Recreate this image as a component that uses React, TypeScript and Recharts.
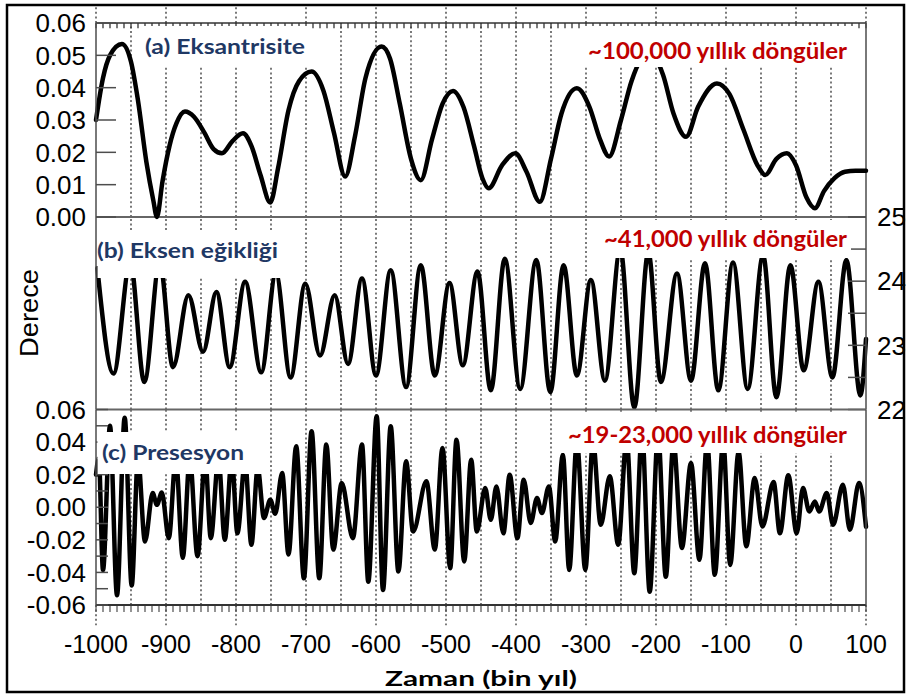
import React from 'react';
import { LineChart, Line, XAxis, YAxis, ReferenceLine } from 'recharts';

// ---------- data (time in thousand years, value) ----------
const eccentricity: [number, number][] = [
  [-1000, 0.030], [-990, 0.043], [-980, 0.050], [-963, 0.0535], [-950, 0.048], [-940, 0.036],
  [-928, 0.017], [-918, 0.005], [-913, 0.0], [-905, 0.011], [-895, 0.022], [-885, 0.029],
  [-873, 0.0326], [-860, 0.031], [-845, 0.026], [-832, 0.021], [-820, 0.0197], [-805, 0.0235],
  [-790, 0.0259], [-778, 0.022], [-765, 0.013], [-751, 0.0045], [-740, 0.015], [-725, 0.033],
  [-710, 0.042], [-692, 0.045], [-675, 0.039], [-660, 0.026], [-644, 0.0125], [-630, 0.025],
  [-615, 0.043], [-592, 0.0527], [-580, 0.049], [-566, 0.035], [-550, 0.018], [-536, 0.0114],
  [-520, 0.024], [-505, 0.035], [-490, 0.039], [-475, 0.034], [-460, 0.022], [-448, 0.012],
  [-439, 0.0089], [-420, 0.016], [-401, 0.0197], [-385, 0.014], [-366, 0.0047], [-350, 0.018],
  [-335, 0.032], [-313, 0.0398], [-295, 0.034], [-280, 0.024], [-267, 0.0187], [-250, 0.030],
  [-235, 0.042], [-210, 0.051], [-190, 0.044], [-175, 0.032], [-157, 0.0248], [-140, 0.034],
  [-113, 0.0413], [-95, 0.038], [-75, 0.027], [-55, 0.016], [-44, 0.013], [-28, 0.018],
  [-13, 0.0197], [0, 0.016], [15, 0.006], [27, 0.0027], [40, 0.008], [55, 0.012],
  [70, 0.014], [85, 0.0143], [100, 0.0143],
];

const obliquity: [number, number][] = [
  [-998, 24.2], [-975, 22.56], [-951, 24.3], [-931, 22.43], [-909, 24.3], [-890, 22.66],
  [-868, 23.78], [-847, 22.9], [-828, 23.83], [-809, 22.66], [-787, 23.99], [-764, 22.58],
  [-743, 24.12], [-722, 22.5], [-701, 23.96], [-680, 22.84], [-659, 23.78], [-640, 22.71],
  [-620, 24.04], [-600, 22.53], [-579, 24.17], [-557, 22.35], [-536, 24.25], [-516, 22.53],
  [-495, 23.97], [-476, 22.69], [-455, 24.15], [-436, 22.3], [-416, 24.35], [-394, 22.32],
  [-371, 24.33], [-351, 22.27], [-332, 24.25], [-313, 22.53], [-293, 24.02], [-273, 22.45],
  [-251, 24.5], [-231, 22.03], [-211, 24.45], [-193, 22.43], [-170, 24.12], [-150, 22.45],
  [-130, 24.28], [-111, 22.3], [-90, 24.29], [-69, 22.32], [-47, 24.4], [-28, 22.19],
  [-8, 24.25], [11, 22.61], [32, 23.99], [52, 22.5], [72, 24.33], [92, 22.22], [100, 23.1],
];

const precession: [number, number][] = [
  [-1000, 0.02], [-996, 0.03], [-990, -0.0385], [-980, 0.05], [-970, -0.054], [-959, 0.055],
  [-949, -0.048], [-940, 0.03], [-930, -0.021], [-919, 0.0087], [-913, 0.0015], [-906, 0.009],
  [-896, -0.019], [-886, 0.03], [-876, -0.031], [-866, 0.03], [-855, -0.03], [-844, 0.03],
  [-836, -0.019], [-825, 0.03], [-816, -0.02], [-806, 0.03], [-798, -0.016], [-787, 0.028],
  [-778, -0.023], [-769, 0.024], [-760, -0.0066], [-751, 0.0046], [-744, -0.004], [-734, 0.021],
  [-725, -0.029], [-714, 0.0374], [-703, -0.0436], [-692, 0.0467], [-681, -0.0436], [-671, 0.0385],
  [-661, -0.026], [-649, 0.0149], [-633, -0.019], [-620, 0.0385], [-611, -0.0457], [-599, 0.0559],
  [-590, -0.0508], [-579, 0.0497], [-568, -0.0395], [-557, 0.0282], [-547, -0.0149], [-528, 0.0159],
  [-516, -0.026], [-505, 0.0364], [-494, -0.0374], [-485, 0.0415], [-474, -0.0333], [-464, 0.0292],
  [-456, -0.0149], [-444, 0.0118], [-436, -0.0077], [-428, 0.0128], [-418, -0.016], [-409, 0.02],
  [-398, -0.019], [-389, 0.0169], [-379, -0.0097], [-370, 0.0057], [-363, -0.0036], [-353, 0.0128],
  [-344, -0.021], [-333, 0.0323], [-324, -0.0385], [-313, 0.04], [-301, -0.0385], [-290, 0.04],
  [-279, -0.0108], [-266, 0.019], [-254, -0.023], [-242, 0.042], [-231, -0.0405], [-220, 0.046],
  [-209, -0.0518], [-197, 0.045], [-186, -0.0426], [-175, 0.04], [-163, -0.025], [-150, 0.0272],
  [-138, -0.0323], [-127, 0.04], [-116, -0.0415], [-104, 0.04], [-94, -0.0354], [-82, 0.034],
  [-71, -0.024], [-59, 0.018], [-48, -0.0118], [-32, 0.0155], [-23, -0.016], [-11, 0.0196],
  [1, -0.016], [10, 0.0118], [19, -0.0026], [27, 0.0036], [33, -0.0026], [44, 0.0087],
  [53, -0.0108], [67, 0.0138], [77, -0.0138], [90, 0.0149], [100, -0.012],
];

// ---------- ticks ----------
const xLabelTicks = [-1000, -900, -800, -700, -600, -500, -400, -300, -200, -100, 0, 100];
const xMinorTicks = Array.from({ length: 111 }, (_, i) => -1000 + i * 10);
const gridTimes = [-950, -900, -850, -800, -750, -700, -650, -600, -550, -500, -450, -400, -350, -300, -250, -200, -150, -100, -50, 0, 50];
const eccTicks = [0, 0.01, 0.02, 0.03, 0.04, 0.05, 0.06];
const oblRightTicks = [22, 22.5, 23, 23.5, 24, 24.5, 25];
const oblLeftTicks = [22.5, 23, 23.5, 24, 24.5];
const precTicks = [-0.06, -0.05, -0.04, -0.03, -0.02, -0.01, 0, 0.01, 0.02, 0.03, 0.04, 0.05, 0.06];

const toRows = (arr: [number, number][]) => arr.map(([t, v]) => ({ t, v }));
const eccData = toRows(eccentricity);
const oblData = toRows(obliquity);
const precData = toRows(precession);

const W = 907;
const H = 695;
const AX = '#4d4d4d';
const FONT = '"Liberation Sans", Arial, sans-serif';
const TITLE_FONT = 'Lato, "Open Sans", sans-serif';
const tickText = { fill: '#000', fontSize: 26, fontFamily: FONT };
const GRID = { stroke: '#333', strokeDasharray: '2 2.6', strokeWidth: 1.3 };
const CURVE = { stroke: '#000', strokeWidth: 4.5, strokeLinejoin: 'round' as const, strokeLinecap: 'round' as const };

const layer: React.CSSProperties = { position: 'absolute', left: 0, top: 0 };

function PanelA() {
  return (
    <div style={layer}>
      <LineChart width={W} height={H} data={eccData} margin={{ top: 23, right: 41, bottom: H - 217, left: 0 }}>
        <XAxis type="number" dataKey="t" domain={[-1000, 100]} hide />
        <YAxis type="number" domain={[0, 0.06]} ticks={eccTicks} interval={0} width={96} tickSize={-20} tickMargin={30}
          tickFormatter={(v: number) => v.toFixed(2)} tick={tickText} axisLine={{ stroke: AX, strokeWidth: 1.5 }} tickLine={{ stroke: AX, strokeWidth: 1.5 }} />
        {gridTimes.map((t) => (
          <ReferenceLine key={'g' + t} x={t} {...GRID} />
        ))}
        {xLabelTicks.map((t) => (
          <ReferenceLine key={'e' + t} ifOverflow="visible" segment={[{ x: t, y: 0.06 }, { x: t, y: 0.0654 }]} {...GRID} />
        ))}
        {xMinorTicks.map((t) => (
          <ReferenceLine key={'m' + t} ifOverflow="visible" segment={[{ x: t, y: 0.06 }, { x: t, y: 0.0584 }]} stroke="#333" strokeWidth={1.3} />
        ))}
        <ReferenceLine y={0.06} stroke="#333" strokeWidth={1.6} />
        <ReferenceLine y={0} stroke="#666" strokeWidth={2} />
        <ReferenceLine x={100} stroke={AX} strokeWidth={1.5} />
        <Line dataKey="v" type="monotone" dot={false} activeDot={false} isAnimationActive={false} {...CURVE} />
      </LineChart>
    </div>
  );
}

function PanelB() {
  return (
    <div style={layer}>
      <LineChart width={W} height={H} data={oblData} margin={{ top: 217, right: 0, bottom: H - 409.5, left: 0 }}>
        <XAxis type="number" dataKey="t" domain={[-1000, 100]} hide />
        <YAxis type="number" orientation="right" domain={[22, 25]} ticks={oblRightTicks} interval={0} width={41}
          tickSize={-18} tickMargin={29} tickFormatter={(v: number) => (Number.isInteger(v) ? String(v) : '')}
          tick={tickText} axisLine={{ stroke: AX, strokeWidth: 1.5 }} tickLine={{ stroke: AX, strokeWidth: 1.5 }} />
        <YAxis yAxisId="l" type="number" orientation="left" domain={[22, 25]} allowDataOverflow ticks={oblLeftTicks} interval={0}
          width={96} tickSize={-20} tick={false} axisLine={{ stroke: AX, strokeWidth: 1.5 }} tickLine={{ stroke: AX, strokeWidth: 1.5 }} />
        {gridTimes.map((t) => (
          <ReferenceLine key={'g' + t} x={t} {...GRID} />
        ))}
        <Line dataKey="v" type="monotone" dot={false} activeDot={false} isAnimationActive={false} {...CURVE} />
      </LineChart>
    </div>
  );
}

function PanelC() {
  return (
    <div style={layer}>
      <LineChart width={W} height={H} data={precData} margin={{ top: 409.5, right: 0, bottom: 30, left: 0 }}>
        <XAxis type="number" dataKey="t" domain={[-1000, 100]} ticks={xLabelTicks} interval={0} height={60}
          tickSize={7} tickMargin={23} tickLine={false}
          tick={{ fill: '#000', fontSize: 25, fontFamily: FONT }} axisLine={{ stroke: '#333', strokeWidth: 2 }} />
        <YAxis type="number" domain={[-0.06, 0.06]} ticks={precTicks} interval={0} width={96} tickSize={-12} tickMargin={22}
          tickFormatter={(v: number) => (Math.round(v * 100) % 2 === 0 ? v.toFixed(2) : '')}
          tick={tickText} axisLine={{ stroke: AX, strokeWidth: 1.5 }} tickLine={{ stroke: AX, strokeWidth: 1.5 }} />
        <YAxis yAxisId="r" type="number" orientation="right" domain={[-0.06, 0.06]} allowDataOverflow ticks={precTicks} interval={0}
          width={41} tickSize={-18} tick={false} axisLine={{ stroke: AX, strokeWidth: 1.5 }} tickLine={{ stroke: AX, strokeWidth: 1.5 }} />
        {gridTimes.map((t) => (
          <ReferenceLine key={'g' + t} x={t} {...GRID} />
        ))}
        {xLabelTicks.map((t) => (
          <ReferenceLine key={'e' + t} ifOverflow="visible" segment={[{ x: t, y: -0.06 }, { x: t, y: -0.0725 }]} {...GRID} />
        ))}
        {xMinorTicks.map((t) => (
          <ReferenceLine key={'m' + t} ifOverflow="visible" segment={[{ x: t, y: -0.06 }, { x: t, y: -0.0643 }]} stroke={AX} strokeWidth={1.2} />
        ))}
        <ReferenceLine y={0.06} stroke="#666" strokeWidth={2} />
        <Line dataKey="v" type="monotone" dot={false} activeDot={false} isAnimationActive={false} {...CURVE} />
      </LineChart>
    </div>
  );
}

function Overlay() {
  const navy = '#1F3864';
  const red = '#C00000';
  return (
    <svg width={W} height={H} style={{ ...layer, pointerEvents: 'none' }}>
      {/* white text boxes that hide the curves behind them */}
      <rect x={140} y={26} width={172} height={40} fill="#fff" />
      <rect x={583} y={26} width={270} height={41} fill="#fff" />
      <rect x={97.5} y={232} width={190} height={46} fill="#fff" />
      <rect x={598} y={220} width={253} height={38} fill="#fff" />
      <rect x={97.5} y={432} width={166} height={42} fill="#fff" />
      <rect x={560} y={412} width={292} height={41} fill="#fff" />

      <g fontFamily={TITLE_FONT} fontWeight={700} fontSize={21} fill={navy}>
        <text x={145} y={53.5} textLength={160} lengthAdjust="spacingAndGlyphs">(a) Eksantrisite</text>
        <text x={97} y={258} textLength={181} lengthAdjust="spacingAndGlyphs">(b) Eksen eğikliği</text>
        <text x={102} y={460} textLength={142} lengthAdjust="spacingAndGlyphs">(c) Presesyon</text>
      </g>
      <g fontFamily={TITLE_FONT} fontWeight={700} fontSize={22} fill={red}>
        <text x={588} y={59} textLength={259} lengthAdjust="spacingAndGlyphs">~100,000 yıllık döngüler</text>
        <text x={604} y={247} textLength={243} lengthAdjust="spacingAndGlyphs">~41,000 yıllık döngüler</text>
        <text x={568} y={443} textLength={279} lengthAdjust="spacingAndGlyphs">~19-23,000 yıllık döngüler</text>
      </g>

      <text x={38} y={313} transform="rotate(-90 38 313)" textAnchor="middle" fontFamily={FONT} fontSize={25}
        fill="#000" textLength={88} lengthAdjust="spacingAndGlyphs">Derece</text>
      <text x={481} y={686} textAnchor="middle" fontFamily={TITLE_FONT} fontWeight={700} fontSize={20}
        fill="#000" textLength={192} lengthAdjust="spacingAndGlyphs">Zaman (bin yıl)</text>

      <rect x={7} y={5} width={897} height={687} fill="none" stroke="#000" strokeWidth={2.5} />
    </svg>
  );
}

export default function App() {
  return (
    <div style={{ position: 'absolute', left: 0, top: 0, width: W, height: H, background: '#fff', overflow: 'hidden' }}>
      <PanelA />
      <PanelB />
      <PanelC />
      <Overlay />
    </div>
  );
}
